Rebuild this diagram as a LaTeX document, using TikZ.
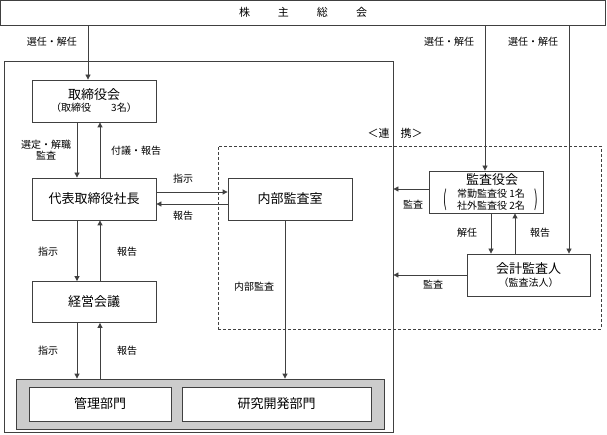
\documentclass[tikz,border=0pt]{standalone}
\usepackage{fontspec}
\usepackage{graphicx}
\setmainfont{Noto Sans CJK JP}
\usetikzlibrary{arrows.meta}
\begin{document}
\begin{tikzpicture}[x=1pt,y=-1pt,
  ink/.style={draw=black!75, line width=0.8pt},
  bx/.style={ink, fill=white, inner sep=0pt, align=center, font=\fontsize{13}{15}\selectfont},
  ttl/.style={font=\fontsize{13}{15}\selectfont, inner sep=0pt},
  lbl/.style={font=\fontsize{10}{12}\selectfont, inner sep=0pt},
  arr/.style={ink, -{Triangle[length=5pt,width=5pt]}},
  ln/.style={ink}]
\useasboundingbox (0,0) rectangle (607,435);
% frames
\node[bx, minimum width=605pt, minimum height=25pt, font=\fontsize{11}{13}\selectfont] (gm) at (303,12.5) {株\hspace{28pt}主\hspace{28pt}総\hspace{28pt}会};
\node[ink, inner sep=0pt, minimum width=389pt, minimum height=371pt] (outer) at (198.5,246.5) {};
\node[ink, dash pattern=on 3pt off 2pt, inner sep=0pt, minimum width=383pt, minimum height=183pt] (renkei) at (409.5,237.5) {};
\node[lbl, font=\fontsize{11}{13}\selectfont] (renkeilbl) at (395,133) {＜連　携＞};
% boxes
\node[bx, minimum width=124pt, minimum height=42pt] (board) at (94,101)
  {取締役会\\[-3pt]{\fontsize{10}{12}\selectfont （取締役　　3名）}};
\node[bx, minimum width=124pt, minimum height=42pt] (ceo) at (94,199) {代表取締役社長};
\node[bx, minimum width=124pt, minimum height=42pt] (naibu) at (290,199) {内部監査室};
\node[bx, minimum width=124pt, minimum height=41pt] (keiei) at (94,302) {経営会議};
\node[bx, minimum width=114pt, minimum height=42pt] (kansa) at (486,192) {};
\node[ttl] (kansat) at (492,180) {監査役会};
\node[lbl] (kansa1) at (491,194) {常勤監査役 1名};
\node[lbl] (kansa2) at (491,205.5) {社外監査役 2名};
\node[inner sep=0pt] (kansapl) at (445,199.5) {\scalebox{0.9}[1.8]{\fontsize{12}{12}\selectfont (}};
\node[inner sep=0pt] (kansapr) at (536,199.5) {\scalebox{0.9}[1.8]{\fontsize{12}{12}\selectfont )}};
\node[bx, minimum width=123pt, minimum height=42pt] (kaikei) at (528.5,275)
  {会計監査人\\[-2pt]{\fontsize{10}{12}\selectfont （監査法人）}};
\node[ink, fill=black!20, inner sep=0pt, minimum width=368pt, minimum height=50pt] (gray) at (200,404) {};
\node[bx, minimum width=142pt, minimum height=34pt] (kanri) at (100,404) {管理部門};
\node[bx, minimum width=189pt, minimum height=34pt] (kenkyu) at (276.5,404) {研究開発部門};
% connectors
\draw[arr] (gm.south -| 88,0) -- (board.north -| 88,0);
\draw[arr] (gm.south -| 485,0) -- (kansa.north -| 485,0);
\draw[arr] (gm.south -| 569,0) -- (kaikei.north -| 569,0);
\draw[arr] (board.south -| 77,0) -- (ceo.north -| 77,0);
\draw[arr] (ceo.north -| 100,0) -- (board.south -| 100,0);
\draw[arr] (ceo.east |- 0,192) -- (naibu.west |- 0,192);
\draw[arr] (naibu.west |- 0,204) -- (ceo.east |- 0,204);
\draw[arr] (ceo.south -| 77,0) -- (keiei.north -| 77,0);
\draw[arr] (keiei.north -| 100,0) -- (ceo.south -| 100,0);
\draw[arr] (keiei.south -| 77,0) -- (gray.north -| 77,0);
\draw[arr] (gray.north -| 100,0) -- (keiei.south -| 100,0);
\draw[arr] (naibu.south -| 285,0) -- (gray.north -| 285,0);
\draw[arr] (kansa.west |- 0,189) -- (outer.east |- 0,189);
\draw[arr] (kaikei.west |- 0,275) -- (outer.east |- 0,275);
\draw[arr] (kansa.south -| 491,0) -- (kaikei.north -| 491,0);
\draw[arr] (kaikei.north -| 515,0) -- (kansa.south -| 515,0);
% labels
\node[lbl] (l1) at (52,42) {選任・解任};
\node[lbl] (l2) at (449,42) {選任・解任};
\node[lbl] (l3) at (533,42) {選任・解任};
\node[lbl, align=center] (l4) at (46,150) {選定・解職\\[-1pt]監査};
\node[lbl] (l5) at (136,151) {付議・報告};
\node[lbl] (l6) at (183,179) {指示};
\node[lbl] (l7) at (183,216) {報告};
\node[lbl] (l8) at (48,252) {指示};
\node[lbl] (l9) at (127,252) {報告};
\node[lbl] (l10) at (48,351) {指示};
\node[lbl] (l11) at (127,351) {報告};
\node[lbl] (l12) at (254,287) {内部監査};
\node[lbl] (l13) at (413,205) {監査};
\node[lbl] (l14) at (433,285) {監査};
\node[lbl] (l15) at (467,233) {解任};
\node[lbl] (l16) at (540,233) {報告};
\end{tikzpicture}
\end{document}
